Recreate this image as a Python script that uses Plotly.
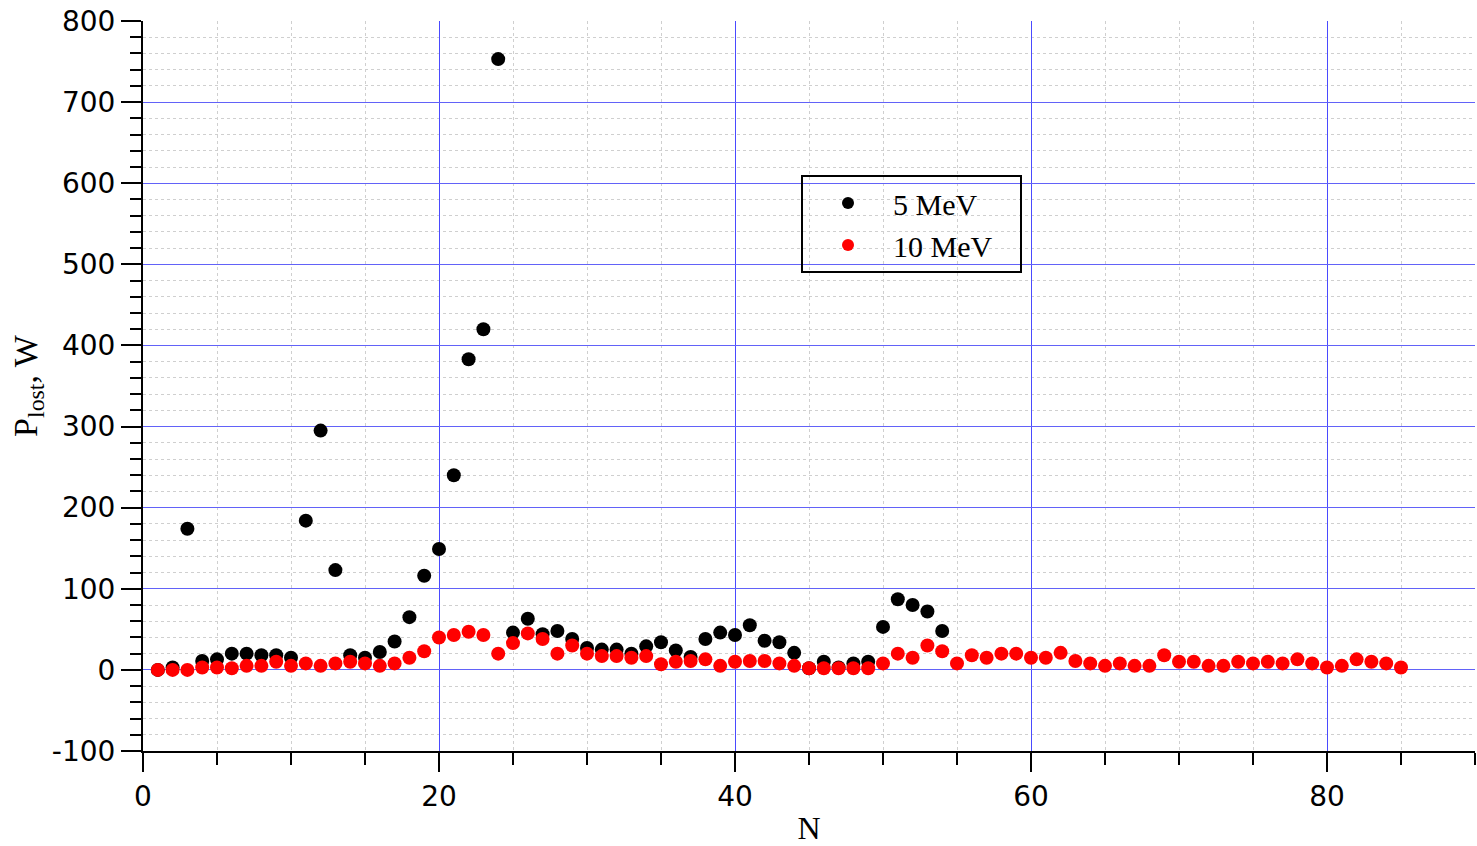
import plotly.graph_objects as go

# Lost power per cell N for two beam energies
n_5mev = list(range(1, 55))
p_5mev = [0, 3, 174, 11, 13, 20, 20, 18, 18, 15,
          184, 295, 123, 18, 15, 22, 35, 65, 116, 149,
          240, 383, 420, 753, 46, 63, 44, 48, 38, 27,
          25, 25, 20, 29, 34, 24, 16, 38, 46, 43,
          55, 36, 34, 21, 2, 10, 3, 8, 10, 53,
          87, 80, 72, 48]

n_10mev = list(range(1, 86))
p_10mev = [0, 0, 0, 3, 3, 2, 5, 5, 10, 5,
           8, 5, 8, 10, 8, 5, 8, 15, 23, 40,
           43, 47, 43, 20, 33, 45, 38, 20, 30, 20,
           17, 17, 15, 17, 7, 10, 11, 13, 5, 10,
           11, 11, 8, 5, 2, 2, 2, 2, 2, 8,
           20, 15, 30, 23, 8, 18, 15, 20, 20, 15,
           15, 21, 11, 8, 5, 8, 5, 5, 18, 10,
           10, 5, 5, 10, 8, 10, 8, 13, 8, 3,
           5, 13, 10, 8, 3]

series_names = ["5 MeV", "10 MeV"]

# Axis tick values and their labels (plain hyphen for negatives)
x_tickvals = [0, 20, 40, 60, 80]
x_ticktext = ["0", "20", "40", "60", "80"]
x_minorvals = [5, 10, 15, 25, 30, 35, 45, 50, 55, 65, 70, 75, 85, 90]
y_tickvals = [-100, 0, 100, 200, 300, 400, 500, 600, 700, 800]
y_ticktext = ["-100", "0", "100", "200", "300", "400", "500", "600", "700", "800"]
y_minorvals = [v for v in range(-80, 800, 20) if v % 100 != 0]

X_MAJOR_GRID = "#4a4aff"
Y_MAJOR_GRID = "#6262f8"
MINOR_GRID = "#cfcfcf"
TICK_FONT = dict(family="DejaVu Sans", size=28, color="black")
SERIF = "Liberation Serif"
PAD = "\u00a0" * 3  # right-hand padding inside the legend box

fig = go.Figure()
fig.add_trace(go.Scatter(x=n_5mev, y=p_5mev, mode="markers", name=series_names[0] + PAD,
                         marker=dict(color="black", size=14)))
fig.add_trace(go.Scatter(x=n_10mev, y=p_10mev, mode="markers", name=series_names[1] + PAD,
                         marker=dict(color="#ff0000", size=14)))

fig.update_layout(
    width=1477, height=846,
    margin=dict(l=143, r=2, t=21, b=95),
    paper_bgcolor="white", plot_bgcolor="white",
    showlegend=True,
    legend=dict(
        x=0.494, y=0.789, xanchor="left", yanchor="top",
        bgcolor="rgba(0,0,0,0)", bordercolor="black", borderwidth=2,
        font=dict(family=SERIF, size=30, color="black"),
        itemwidth=80, itemsizing="constant",
    ),
    xaxis=dict(
        range=[0, 90], tickmode="array", tickvals=x_tickvals, ticktext=x_ticktext,
        ticks="outside", ticklen=19, tickwidth=2, tickcolor="black",
        showline=True, linecolor="black", linewidth=2,
        showgrid=True, gridcolor=X_MAJOR_GRID, gridwidth=1, zeroline=False,
        tickfont=TICK_FONT,
        minor=dict(tickmode="array", tickvals=x_minorvals, ticks="outside", ticklen=12,
                   tickwidth=2, tickcolor="black", showgrid=True, gridcolor=MINOR_GRID,
                   griddash="dot", gridwidth=1),
        title=dict(text="N", font=dict(family=SERIF, size=32, color="black"), standoff=8),
    ),
    yaxis=dict(
        range=[-100, 800], tickmode="array", tickvals=y_tickvals, ticktext=y_ticktext,
        ticks="outside", ticklen=20, tickwidth=2, tickcolor="black",
        showline=True, linecolor="black", linewidth=2,
        showgrid=True, gridcolor=Y_MAJOR_GRID, gridwidth=1, zeroline=False,
        tickfont=TICK_FONT,
        minor=dict(tickmode="array", tickvals=y_minorvals, ticks="outside", ticklen=11,
                   tickwidth=2, tickcolor="black", showgrid=True, gridcolor=MINOR_GRID,
                   griddash="dot", gridwidth=1),
        title=dict(text="P<sub>lost</sub>, W", font=dict(family=SERIF, size=34, color="black"),
                   standoff=4),
    ),
)

fig.write_html("out.html")
